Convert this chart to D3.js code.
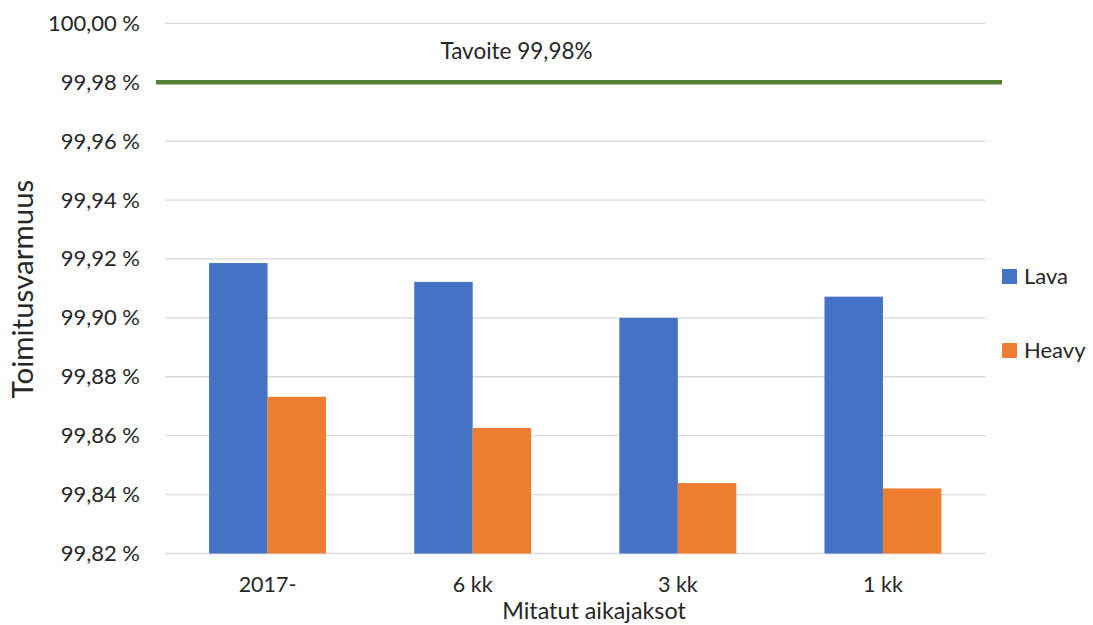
<!DOCTYPE html>
<html>
<head>
<meta charset="utf-8">
<script src="https://cdn.jsdelivr.net/npm/d3@7"></script>
<style>
  html, body { margin: 0; padding: 0; background: #fff; }
  svg { display: block; font-family: Lato, "Open Sans", sans-serif; }
</style>
</head>
<body>
<svg id="chart" width="1093" height="625"></svg>
<script>
// Toimitusvarmuus per mittausjakso
const categories = ["2017-", "6 kk", "3 kk", "1 kk"];
const seriesNames = ["Lava", "Heavy"];
const lavaValues = [99.9186, 99.9122, 99.9000, 99.9072];
const heavyValues = [99.8732, 99.8626, 99.8439, 99.8421];
const yTicks = [99.82, 99.84, 99.86, 99.88, 99.90, 99.92, 99.94, 99.96, 99.98, 100.00];
const targetValue = 99.98;
const targetLabel = "Tavoite 99,98%";
const yTitle = "Toimitusvarmuus";
const xTitle = "Mitatut aikajaksot";

const colors = { Lava: "#4472C4", Heavy: "#ED7D31" };
const textColor = "#262626";

const svg = d3.select("#chart");
const plot = { left: 165, right: 985.5, top: 23.3, bottom: 553.5 };

const y = d3.scaleLinear().domain([99.82, 100.00]).range([plot.bottom, plot.top]);
const x0 = d3.scaleBand().domain(categories).range([plot.left, plot.right])
  .paddingInner(0.43).paddingOuter(0.215);
const x1 = d3.scaleBand().domain(seriesNames).range([0, x0.bandwidth()]);

const fmt = v => d3.format(".2f")(v).replace(".", ",") + " %";

// gridlines
svg.append("g").selectAll("line").data(yTicks).join("line")
  .attr("x1", plot.left).attr("x2", plot.right)
  .attr("y1", d => y(d)).attr("y2", d => y(d))
  .attr("stroke", "#d9d9d9").attr("stroke-width", 1.3);

// y axis labels
const yAxis = d3.axisLeft(y).tickValues(yTicks).tickFormat(fmt).tickSize(0).tickPadding(0);
const gy = svg.append("g").attr("transform", `translate(140,0)`).call(yAxis);
gy.select(".domain").remove();
gy.selectAll("text").attr("font-size", 22).attr("fill", textColor)
  .attr("font-family", "Lato, sans-serif");

// bars
const rows = categories.map((c, i) => ({ cat: c, vals: [
  { s: "Lava", v: lavaValues[i] }, { s: "Heavy", v: heavyValues[i] } ] }));
const groups = svg.append("g").selectAll("g").data(rows).join("g")
  .attr("transform", d => `translate(${x0(d.cat)},0)`);
groups.selectAll("rect").data(d => d.vals).join("rect")
  .attr("x", d => x1(d.s)).attr("width", x1.bandwidth())
  .attr("y", d => y(d.v)).attr("height", d => y(99.82) - y(d.v))
  .attr("fill", d => colors[d.s]);

// x axis labels
const xAxis = d3.axisBottom(x0).tickSize(0).tickPadding(0);
const gx = svg.append("g").attr("transform", `translate(0,592)`).call(xAxis);
gx.select(".domain").remove();
gx.selectAll("text").attr("font-size", 21.5).attr("fill", textColor)
  .attr("font-family", "Lato, sans-serif").attr("dy", "0");

// target line
svg.append("line")
  .attr("x1", 156).attr("x2", 1002)
  .attr("y1", y(targetValue)).attr("y2", y(targetValue))
  .attr("stroke", "#548235").attr("stroke-width", 4.5);
svg.append("text").attr("x", 516.5).attr("y", 58.5)
  .attr("text-anchor", "middle").attr("font-size", 22.5).attr("fill", textColor)
  .text(targetLabel);

// axis titles
svg.append("text").attr("transform", "translate(33,289) rotate(-90)")
  .attr("text-anchor", "middle").attr("font-size", 29.5).attr("fill", textColor)
  .text(yTitle);
svg.append("text").attr("x", 594).attr("y", 619)
  .attr("text-anchor", "middle").attr("font-size", 23.3).attr("fill", textColor)
  .text(xTitle);

// legend
const legend = svg.append("g").selectAll("g").data(seriesNames).join("g")
  .attr("transform", (d, i) => `translate(1002,${269 + i * 74})`);
legend.append("rect").attr("width", 15).attr("height", 15)
  .attr("fill", d => colors[d]);
legend.append("text").attr("x", 22).attr("y", 15).attr("font-size", 22)
  .attr("fill", textColor).text(d => d);
</script>
</body>
</html>
